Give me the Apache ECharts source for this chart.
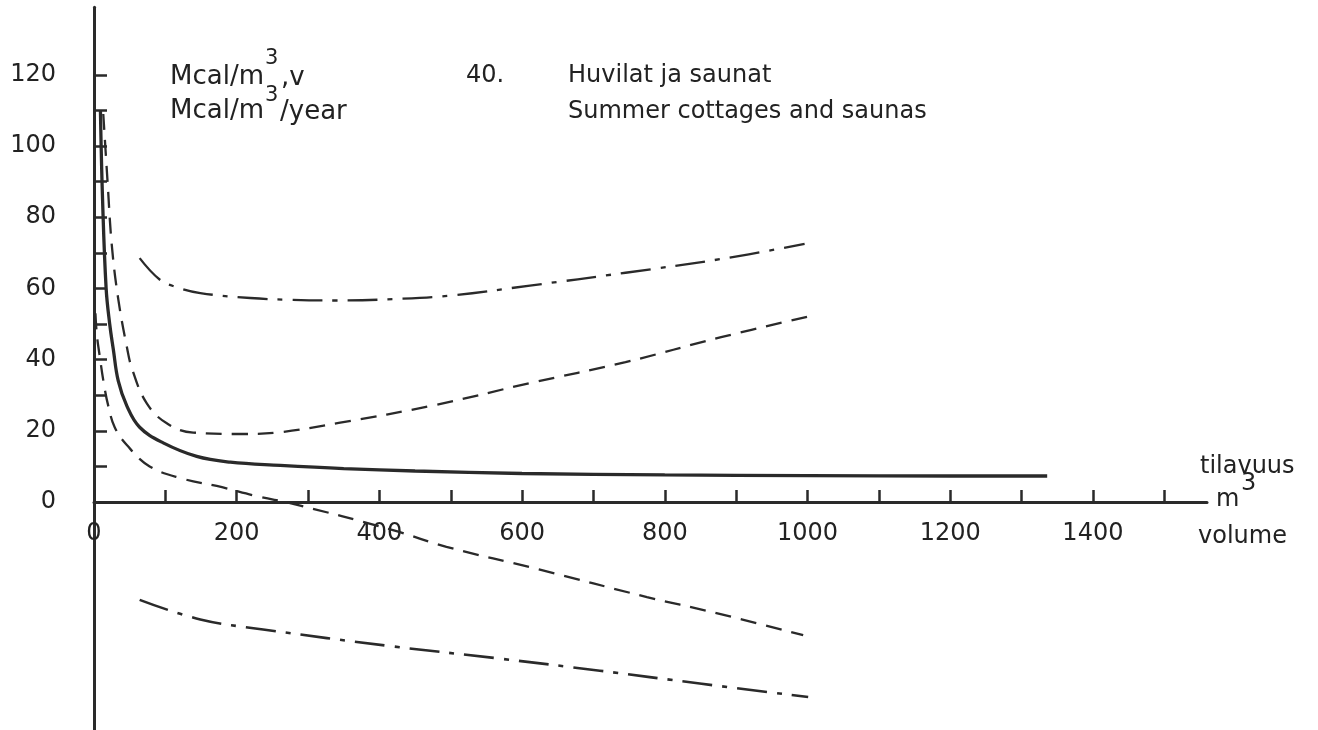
<!DOCTYPE html>
<html>
<head>
<meta charset="utf-8">
<script src="https://cdn.jsdelivr.net/npm/echarts@6/dist/echarts.min.js"></script>
<style>
html,body{margin:0;padding:0;background:#fff;}
#c{width:1318px;height:730px;}
</style>
</head>
<body>
<div id="c"></div>
<script>
// ---- data ----
var meanX = [9, 12, 17, 22, 27, 34, 46, 64, 97, 144, 191, 261, 350, 450, 600, 800, 1000, 1200, 1336];
var meanY = [110, 85, 60, 50, 43, 34, 27, 21, 16.6, 12.8, 11.2, 10.3, 9.4, 8.7, 8.0, 7.6, 7.4, 7.3, 7.3];

var upperDashX = [13, 19, 25, 34, 46, 54, 74, 102, 139, 209, 261, 343, 477, 611, 745, 879, 1010];
var upperDashY = [109, 90, 72, 57, 43.6, 37, 27.7, 22.1, 19.5, 19.1, 19.6, 22.2, 27.2, 33.4, 39.3, 46.3, 52.5];

var lowerDashX = [2, 4, 8, 14, 20, 29, 46, 78, 125, 172, 233, 275, 419, 494, 625, 775, 868, 994];
var lowerDashY = [53, 47, 41, 33, 27, 21, 16, 10, 6.5, 4.5, 1.4, -0.3, -7.9, -12.6, -19, -26.7, -31, -37.4];

var upperDotX = [64, 92, 115, 149, 219, 276, 340, 420, 500, 611, 745, 880, 996];
var upperDotY = [68.5, 62.5, 60.4, 58.7, 57.3, 56.8, 56.6, 57, 58, 60.8, 64.4, 68.3, 72.5];

var lowerDotX = [64, 149, 237, 416, 569, 709, 849, 1001];
var lowerDotY = [-27.5, -33, -35.8, -40.5, -44, -47.4, -51, -54.8];

var xTickLabels = [0, 200, 400, 600, 800, 1000, 1200, 1400];
var yTickLabels = [0, 20, 40, 60, 80, 100, 120];

function pairs(xs, ys){ return xs.map(function(x,i){ return [x, ys[i]]; }); }

var ink = '#2a2a2a';
var FONT = '"DejaVu Sans", "Noto Sans", sans-serif';

var chart = echarts.init(document.getElementById('c'), null, {renderer:'canvas'});

function lineSeries(xs, ys, width, type){
  return {
    type:'line', xAxisIndex:0, yAxisIndex:0,
    data: pairs(xs, ys), showSymbol:false, smooth:0.4,
    lineStyle:{color:ink, width:width, type:type, cap:'butt'},
    silent:true, z:3
  };
}

function txt(s, x, y, size){
  return {type:'text', silent:true,
    style:{text:s, x:x, y:y, font:size+'px '+FONT, fill:'#222', textVerticalAlign:'middle'}};
}

chart.setOption({
  animation:false,
  backgroundColor:'#ffffff',
  grid:[
    {left:94, right:111, top:7.2, bottom:0.2},
    {left:94, right:153.75, top:74.8, bottom:228}
  ],
  xAxis:[
    {type:'value', gridIndex:0, min:0, max:1560,
     axisLine:{show:true, onZero:true, lineStyle:{color:ink, width:3}},
     axisTick:{show:false}, axisLabel:{show:false}, splitLine:{show:false}},
    {type:'value', gridIndex:1, min:0, max:1500, interval:100,
     axisLine:{show:false},
     axisTick:{show:true, inside:true, length:12, lineStyle:{color:ink, width:2.5}},
     axisLabel:{show:true, margin:20, color:'#222', fontSize:24, fontFamily:FONT,
       formatter:function(v){ return xTickLabels.indexOf(v) >= 0 ? String(v) : ''; }},
     splitLine:{show:false}}
  ],
  yAxis:[
    {type:'value', gridIndex:0, min:-64, max:139,
     axisLine:{show:true, onZero:true, lineStyle:{color:ink, width:3}},
     axisTick:{show:false}, axisLabel:{show:false}, splitLine:{show:false}},
    {type:'value', gridIndex:1, min:0, max:120, interval:10,
     axisLine:{show:false},
     axisTick:{show:true, inside:true, length:13, lineStyle:{color:ink, width:2.5}},
     axisLabel:{show:true, margin:38, color:'#222', fontSize:24, fontFamily:FONT,
       formatter:function(v){ return yTickLabels.indexOf(v) >= 0 ? String(v) : ''; }},
     splitLine:{show:false}}
  ],
  series:[
    lineSeries(meanX, meanY, 3.3, 'solid'),
    lineSeries(upperDashX, upperDashY, 2.3, [16,10]),
    lineSeries(lowerDashX, lowerDashY, 2.3, [16,10]),
    lineSeries(upperDotX, upperDotY, 2.3, [30,10,5,10]),
    lineSeries(lowerDotX, lowerDotY, 2.6, [30,10,5,10])
  ],
  graphic:[
    txt('Mcal/m', 170, 77, 26),
    txt('3', 265, 59, 21),
    txt(',v', 281, 78, 26),
    txt('Mcal/m', 170, 111, 26),
    txt('3', 265, 96, 21),
    txt('/year', 280, 112, 26),
    txt('40.', 466, 76, 24),
    txt('Huvilat ja saunat', 568, 76, 24),
    txt('Summer cottages and saunas', 568, 112, 24),
    txt('tilavuus', 1200, 467, 24),
    txt('m', 1216, 500, 24),
    txt('3', 1241, 484, 24),
    txt('volume', 1198, 537, 24)
  ]
});
</script>
</body>
</html>
